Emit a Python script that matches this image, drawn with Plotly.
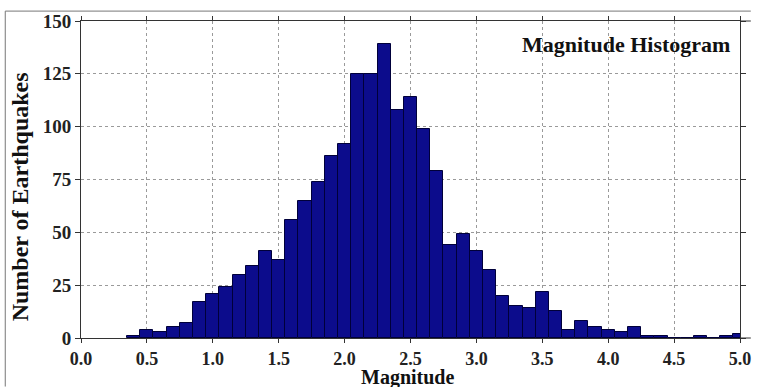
import plotly.graph_objects as go

magnitude = [0.4, 0.5, 0.6, 0.7, 0.8, 0.9, 1.0, 1.1, 1.2, 1.3, 1.4, 1.5, 1.6, 1.7, 1.8, 1.9,
             2.0, 2.1, 2.2, 2.3, 2.4, 2.5, 2.6, 2.7, 2.8, 2.9, 3.0, 3.1, 3.2, 3.3, 3.4, 3.5,
             3.6, 3.7, 3.8, 3.9, 4.0, 4.1, 4.2, 4.3, 4.4, 4.5, 4.6, 4.7, 4.8, 4.9, 5.0]
counts = [1, 4, 3, 5, 7, 17, 21, 24, 30, 34, 41, 37, 56, 65, 74, 86,
          92, 125, 125, 139, 108, 114, 99, 79, 44, 49, 41, 32, 20, 15, 14, 22,
          13, 4, 8, 5, 4, 3, 5, 1, 1, 0, 0, 1, 0, 1, 2]
x_ticks = [0.0, 0.5, 1.0, 1.5, 2.0, 2.5, 3.0, 3.5, 4.0, 4.5, 5.0]
x_tick_labels = ["0.0", "0.5", "1.0", "1.5", "2.0", "2.5", "3.0", "3.5", "4.0", "4.5", "5.0"]
y_ticks = [0, 25, 50, 75, 100, 125, 150]

font_family = "Liberation Serif"

fig = go.Figure()
fig.add_trace(go.Bar(
    x=magnitude, y=counts, width=0.1,
    marker=dict(color="#0c0c8c", line=dict(color="#00003a", width=1)),
))

axis_common = dict(
    showline=True, linecolor="#333333", linewidth=1, mirror="ticks",
    ticks="outside", tickcolor="#333333",
    showgrid=True, gridcolor="#9a9a9a", griddash="dot", gridwidth=1,
    zeroline=False,
)

fig.update_xaxes(range=[0, 5], tickvals=x_ticks, ticktext=x_tick_labels, ticklabelstandoff=0, ticklen=4,
                 tickfont=dict(family=font_family, size=18, color="#222222", weight="bold"),
                 **axis_common)
fig.update_yaxes(range=[0, 150], tickvals=y_ticks, ticklen=5,
                 tickfont=dict(family=font_family, size=19, color="#222222", weight="bold"),
                 **axis_common)

title_font = dict(family=font_family, size=24, color="#111111")

# axis titles
fig.add_annotation(
    x=(413 - 81) / 670, y=(338 - 390) / 320, xref="paper", yref="paper",
    xanchor="center", yanchor="bottom", showarrow=False, borderpad=0,
    text="<b>Magnitude</b>", font=dict(family=font_family, size=20, color="#111111"),
)
fig.add_annotation(
    x=(19 - 81) / 670, y=(338 - 196) / 320, xref="paper", yref="paper",
    xanchor="center", yanchor="middle", showarrow=False, textangle=-90,
    text="<b>Number of Earthquakes</b>", font=title_font,
)

fig.add_annotation(
    x=(743 - 81) / 670, y=(338 - 42) / 320, xref="paper", yref="paper",
    xanchor="right", yanchor="middle",
    text="<b>Magnitude Histogram</b>", showarrow=False,
    font=dict(family=font_family, size=22, color="#111111"),
)

# image frame lines
fig.add_shape(type="line", xref="paper", yref="paper", x0=(4 - 81) / 670, x1=(762 - 81) / 670,
              y0=(338 - 8) / 320, y1=(338 - 8) / 320, line=dict(color="#777777", width=1))
fig.add_shape(type="line", xref="paper", yref="paper", x0=(4 - 81) / 670, x1=(4 - 81) / 670,
              y0=(338 - 387) / 320, y1=(338 - 8) / 320, line=dict(color="#777777", width=1))
# axis lines extending past right edge
fig.add_shape(type="line", xref="paper", yref="paper", x0=1, x1=(762 - 81) / 670, y0=0, y1=0,
              line=dict(color="#333333", width=1))
fig.add_shape(type="line", xref="paper", yref="paper", x0=1, x1=(762 - 81) / 670, y0=1, y1=1,
              line=dict(color="#333333", width=1))

fig.update_layout(
    width=762, height=387,
    margin=dict(l=81, r=11, t=18, b=49),
    plot_bgcolor="white", paper_bgcolor="white",
    showlegend=False, bargap=0,
)

fig.write_html("out.html")
